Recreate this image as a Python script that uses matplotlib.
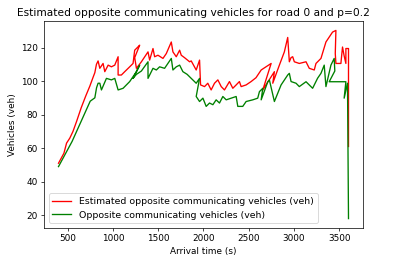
import matplotlib
matplotlib.use("Agg")
import matplotlib.pyplot as plt

# estimated opposite communicating vehicles (red)
est_time = [400, 430, 460, 489, 525, 560, 600, 650, 700, 746, 780, 801, 819, 837, 856,
            892, 911, 948, 984, 1021, 1058, 1058, 1094, 1131, 1186, 1223, 1241, 1278, 1296,
            1241, 1260, 1315, 1388, 1406, 1443, 1461, 1498, 1553, 1590, 1645, 1663, 1700,
            1737, 1755, 1790, 1847, 1865, 1920, 1957, 1968, 2012, 2048, 2085, 2122, 2159,
            2196, 2232, 2287, 2324, 2361, 2397, 2416, 2471, 2526, 2580, 2637, 2747, 2655,
            2783, 2765, 2838, 2893, 2930, 2948, 2967, 2985, 3003, 3058, 3132, 3168, 3223,
            3242, 3297, 3352, 3425, 3462, 3455, 3462, 3517, 3535, 3553, 3572, 3572, 3601,
            3601, 3601]
est_veh = [51, 54, 57, 63, 66, 70, 76, 84, 91, 97, 102, 105, 110, 112, 107.6,
           110.5, 105.6, 109.5, 108.5, 109.5, 114.5, 103.6, 103.6, 105.6, 108.5, 110.5, 118.4, 120.4, 121.4,
           114, 107.6, 111.5, 117.4, 112.5, 119.4, 114.5, 115.4, 113.5, 116.4, 123.3, 117.4, 114.5,
           118.4, 115.4, 114, 111.5, 112, 106.6, 112.5, 97.7, 96.7, 98.7, 94.7, 98.7, 100.7,
           96.7, 94.7, 99.7, 95.7, 97.7, 99.7, 96.7, 97.7, 99.7, 102, 106.6, 110.5, 94.7,
           105.6, 98.7, 109.5, 117.4, 126, 111.5, 114, 114.5, 111.5, 110.5, 111.5, 107.6, 106.6,
           110.5, 113.5, 123.3, 129.2, 130.2, 116.4, 110.5, 110.5, 120.3, 115, 110.5, 119.4, 119.4,
           98.7, 61]

# real opposite communicating vehicles (green)
real_time = [400, 450, 500, 550, 600, 650, 700, 750, 801, 820, 837, 856, 874, 929, 984,
             1021, 1058, 1113, 1186, 1260, 1296, 1223, 1260, 1315, 1388, 1388, 1443, 1480,
             1516, 1571, 1645, 1663, 1700, 1737, 1773, 1820, 1865, 1920, 1957, 1920, 1957,
             1994, 2030, 2067, 2104, 2140, 2177, 2214, 2251, 2306, 2361, 2379, 2434, 2471,
             2544, 2599, 2618, 2655, 2637, 2710, 2728, 2783, 2857, 2930, 2948, 2967, 3022,
             3058, 3132, 3205, 3260, 3297, 3333, 3352, 3407, 3443, 3450, 3388, 3572, 3553,
             3590, 3601]
real_veh = [49, 54, 59, 64, 70, 76, 82, 88, 90, 96, 98.7, 98.7, 94.7, 101.6, 100.7,
            101.6, 94.7, 95.7, 99.7, 105.6, 109.5, 101.6, 104, 106, 111.5, 101.6, 107.6, 106.6,
            108.5, 107.6, 113.5, 106.6, 108.5, 109.5, 105.6, 104, 101.6, 98.7, 101.6, 90.8, 87.8,
            89.8, 84.9, 86.9, 85.9, 88.8, 86.9, 90.8, 88.8, 89.8, 90.8, 84.9, 84.9, 87.8,
            88.8, 89.8, 93.7, 95.7, 88.8, 99.6, 100.6, 87.8, 97.7, 103.6, 104.6, 99.7, 98.7,
            96.7, 99.6, 95.7, 101.7, 104.6, 109.5, 96.7, 109.5, 113.5, 106, 99.6, 99.6, 89.8,
            98.7, 18]

fig = plt.figure(figsize=(399 / 64, 264 / 64), dpi=64)
ax = fig.add_axes([44 / 399, 1 - 228 / 264, 319 / 399, 207 / 264])
ax.plot(est_time, est_veh, 'r', label="Estimated opposite communicating vehicles (veh)")
ax.plot(real_time, real_veh, 'g', label="Opposite communicating vehicles (veh)")
ax.set_title("Estimated opposite communicating vehicles for road 0 and p=0.2", x=0.467)
ax.set_xlabel("Arrival time (s)")
ax.set_ylabel("Vehicles (veh)")
ax.legend(loc="lower left", fontsize=10.6)
fig.savefig("out.png", dpi=64)
